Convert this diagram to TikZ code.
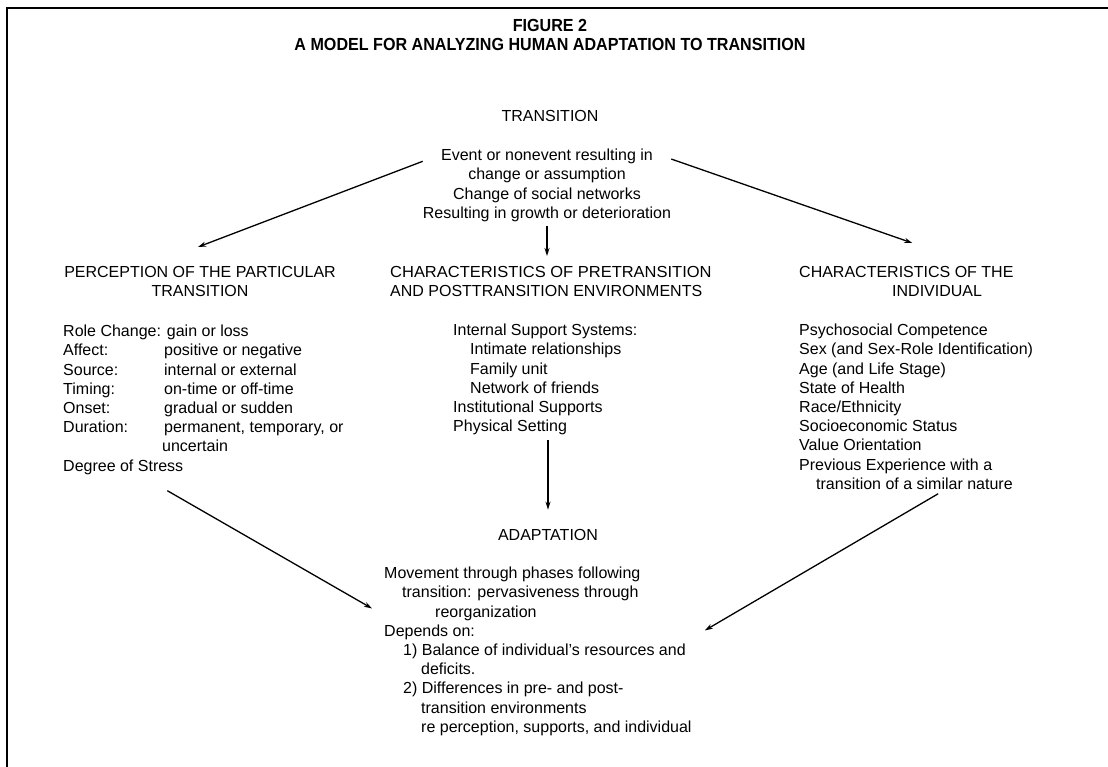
\documentclass[tikz,border=0pt]{standalone}
\usepackage{graphicx}
\usepackage{fontspec}
\setmainfont{Liberation Sans}
\usetikzlibrary{arrows.meta,positioning}
\tikzset{
  ttl/.style = {inner sep=0pt, font=\bfseries\fontsize{17.5}{19}\selectfont},
  hd/.style = {inner sep=0pt, font=\fontsize{16}{19.2}\selectfont, align=center},
  lst/.style = {inner sep=0pt, font=\fontsize{16}{19.2}\selectfont, align=left, anchor=north west},
  arrow/.style = {line width=1.3pt, -{Stealth[length=8pt,width=5pt]}}
}
\newcommand{\lbl}[1]{\makebox[101pt][l]{#1}}
\newcommand{\narrow}[1]{\scalebox{0.92}[1]{#1}}

\begin{document}
\begin{tikzpicture}[x=1pt,y=-1pt]
            \useasboundingbox (0,0) rectangle (1108,767);
            \draw[line width=2.2pt] (7,767) -- (7,8) -- (1108,8);
            % title
            \node[ttl, anchor=base] (fig) at (550,32) {\narrow{FIGURE 2}};
            \node[ttl, anchor=base] (title) at (550,51) {\narrow{A MODEL FOR ANALYZING HUMAN ADAPTATION TO TRANSITION}};
            % transition
            \node[hd, anchor=base] (trans) at (550,122) {TRANSITION};
            \node[hd, anchor=north] (event) at (547,149) {Event or nonevent resulting in\\change or assumption\\Change of social networks\\Resulting in growth or deterioration};
            % three headings
            \node[hd, anchor=north] (perc) at (200,266) {PERCEPTION OF THE PARTICULAR\\TRANSITION};
            \node[lst] (envh) at (390,266) {\scalebox{1.03}[1]{CHARACTERISTICS OF PRETRANSITION}\\AND POSTTRANSITION ENVIRONMENTS};
            \node[lst] (indh) at (799,266) {CHARACTERISTICS OF THE\\\hspace*{93pt}INDIVIDUAL};
            % lists
            \node[lst] (perclist) at (63,325) {Role Change: gain or loss\\\lbl{Affect:}positive or negative\\\lbl{Source:}internal or external\\\lbl{Timing:}on-time or off-time\\\lbl{Onset:}gradual or sudden\\\lbl{Duration:}permanent, temporary, or\\\hspace*{99pt}uncertain\\Degree of Stress};
            \node[lst] (envlist) at (453,324) {Internal Support Systems:\\\hspace*{17pt}Intimate relationships\\\hspace*{17pt}Family unit\\\hspace*{17pt}Network of friends\\Institutional Supports\\Physical Setting};
            \node[lst] (indlist) at (799,324) {Psychosocial Competence\\Sex (and Sex-Role Identification)\\Age (and Life Stage)\\State of Health\\Race/Ethnicity\\Socioeconomic Status\\Value Orientation\\Previous Experience with a\\\hspace*{17pt}transition of a similar nature};
            % adaptation
            \node[hd, anchor=base] (adapt) at (548,540) {ADAPTATION};
            \node[lst] (adaptlist) at (384,567) {Movement through phases following\\\hspace*{18pt}transition: pervasiveness through\\\hspace*{51pt}reorganization\\Depends on:\\\hspace*{19pt}1) Balance of individual's resources and\\\hspace*{37pt}deficits.\\\hspace*{19pt}2) Differences in pre- and post-\\\hspace*{37pt}transition environments\\\hspace*{37pt}re perception, supports, and individual};
            % arrows
            \draw[arrow] (event.169) -- ([shift={(-2,-19)}]perc.north);
            \draw[arrow] (event.12) -- ([shift={(6,-23)}]indh.north);
            \draw[arrow, shorten <=4pt, shorten >=10pt] (event.south) -- (event.south |- envh.north);
            \draw[arrow, shorten <=5pt, shorten >=19pt] (adapt.north |- envlist.south) -- (adapt.north);
            \draw[arrow] ([shift={(-36,16)}]perclist.south) -- ([shift={(-12,-43)}]adaptlist.west);
            \draw[arrow] ([shift={(22,4)}]indlist.south) -- ([shift={(13,-21)}]adaptlist.east);
        \end{tikzpicture}
\end{document}
